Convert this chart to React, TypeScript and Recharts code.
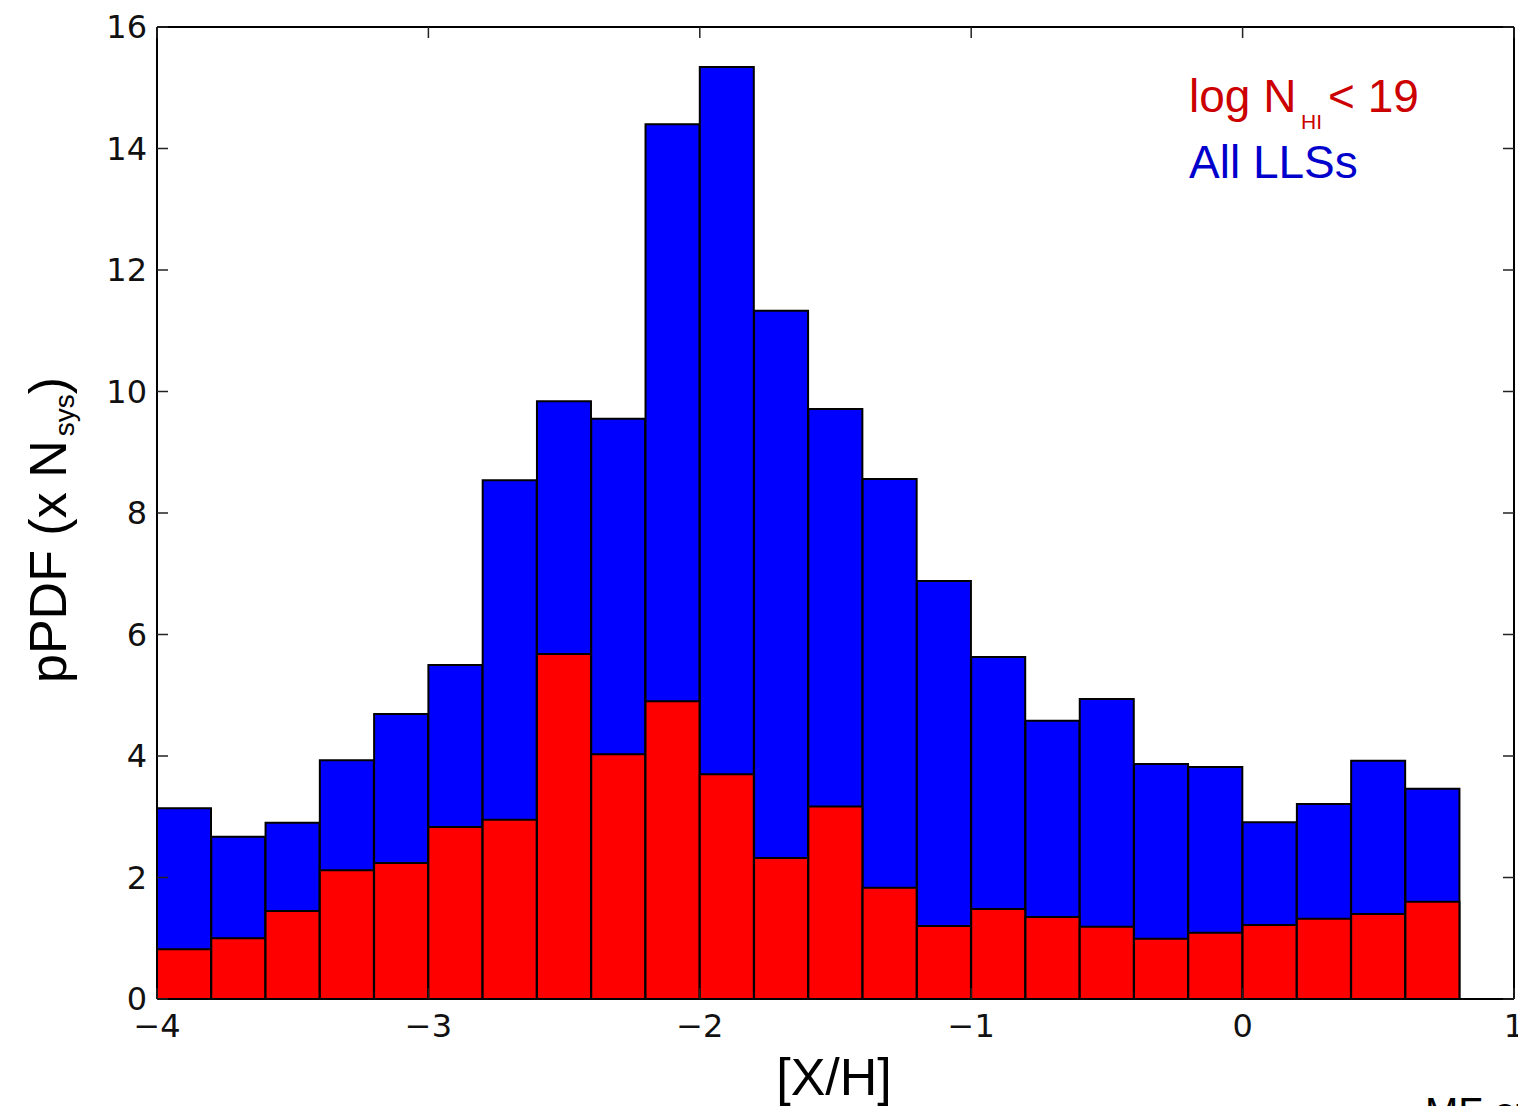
import React from 'react';
import { BarChart, Bar, XAxis, YAxis } from 'recharts';

// Bin left edges of [X/H] (width 0.2); the last slot (0.8–1.0) is empty
const binStarts = [-4.0, -3.8, -3.6, -3.4, -3.2, -3.0, -2.8, -2.6, -2.4, -2.2, -2.0, -1.8, -1.6, -1.4, -1.2, -1.0, -0.8, -0.6, -0.4, -0.2, 0.0, 0.2, 0.4, 0.6, 0.8];

// All LLSs (blue)
const allLLSs = [3.14, 2.67, 2.90, 3.93, 4.69, 5.50, 8.54, 9.84, 9.55, 14.40, 15.34, 11.33, 9.71, 8.56, 6.88, 5.63, 4.58, 4.94, 3.87, 3.82, 2.91, 3.21, 3.92, 3.46];

// log N_HI < 19 (red)
const lowNHI = [0.82, 1.00, 1.45, 2.12, 2.24, 2.83, 2.95, 5.68, 4.03, 4.90, 3.70, 2.32, 3.17, 1.83, 1.20, 1.48, 1.35, 1.19, 0.99, 1.09, 1.22, 1.32, 1.40, 1.60];

const xTicks = [-4, -3, -2, -1, 0, 1];
const yTicks = [0, 2, 4, 6, 8, 10, 12, 14, 16];

const data = binStarts.map((b, i) => ({
  bin: b.toFixed(1),
  x: b,
  all: i < allLLSs.length ? allLLSs[i] : null,
  low: i < lowNHI.length ? lowNHI[i] : null,
}));

const TICK_FONT = '"DejaVu Sans", sans-serif';
const LABEL_FONT = '"Liberation Sans", Arial, sans-serif';
const TICK_LEN = 11;
const TICK_COLOR = '#222';

const fmt = (v: number) => (v < 0 ? '\u2212' + Math.abs(v) : String(v));

const BottomTick = (props: any) => {
  const { x, y, payload } = props;
  return (
    <g>
      <line x1={x} x2={x} y1={y} y2={y - TICK_LEN} stroke={TICK_COLOR} strokeWidth={1.5} />
      <text x={x} y={y + 38} textAnchor="middle" fontFamily={TICK_FONT} fontSize={32} fill="#111">
        {fmt(payload.value)}
      </text>
    </g>
  );
};

const TopTick = (props: any) => {
  const { x, y } = props;
  return <line x1={x} x2={x} y1={y} y2={y + TICK_LEN} stroke={TICK_COLOR} strokeWidth={1.5} />;
};

const LeftTick = (props: any) => {
  const { x, y, payload } = props;
  return (
    <g>
      <line x1={x} x2={x + TICK_LEN} y1={y} y2={y} stroke={TICK_COLOR} strokeWidth={1.5} />
      <text x={x - 10} y={y + 11} textAnchor="end" fontFamily={TICK_FONT} fontSize={32} fill="#111">
        {fmt(payload.value)}
      </text>
    </g>
  );
};

const RightTick = (props: any) => {
  const { x, y } = props;
  return <line x1={x} x2={x - TICK_LEN} y1={y} y2={y} stroke={TICK_COLOR} strokeWidth={1.5} />;
};

const frame = { stroke: '#000', strokeWidth: 2 };

export default function App() {
  return (
    <div style={{ position: 'absolute', left: 0, top: 0, width: 1518, height: 1106, background: '#fff', overflow: 'hidden' }}>
      <BarChart
        width={1518}
        height={1106}
        data={data}
        margin={{ top: 26, right: 3, bottom: 106, left: 156 }}
        barCategoryGap={0}
        barGap={0}
      >
        <XAxis
          xAxisId="num"
          dataKey="x"
          type="number"
          orientation="bottom"
          domain={[-4, 1]}
          ticks={xTicks}
          allowDataOverflow
          height={1}
          tickSize={0}
          tickMargin={0}
          tickLine={false}
          axisLine={frame}
          tick={<BottomTick />}
          interval={0}
        />
        <XAxis
          xAxisId="top"
          dataKey="x"
          type="number"
          orientation="top"
          domain={[-4, 1]}
          ticks={xTicks}
          allowDataOverflow
          height={1}
          tickSize={0}
          tickMargin={0}
          tickLine={false}
          axisLine={frame}
          tick={<TopTick />}
          interval={0}
        />
        <XAxis xAxisId="cat" dataKey="bin" type="category" hide height={0} />
        <XAxis xAxisId="cat2" dataKey="bin" type="category" hide height={0} />
        <YAxis
          yAxisId="left"
          orientation="left"
          type="number"
          domain={[0, 16]}
          ticks={yTicks}
          allowDataOverflow
          width={1}
          tickSize={0}
          tickMargin={0}
          tickLine={false}
          axisLine={frame}
          tick={<LeftTick />}
          interval={0}
        />
        <YAxis
          yAxisId="right"
          orientation="right"
          type="number"
          domain={[0, 16]}
          ticks={yTicks}
          allowDataOverflow
          width={1}
          tickSize={0}
          tickMargin={0}
          tickLine={false}
          axisLine={frame}
          tick={<RightTick />}
          interval={0}
        />
        <Bar
          xAxisId="cat"
          yAxisId="left"
          dataKey="all"
          fill="#0000ff"
          stroke="#000"
          strokeWidth={2}
          isAnimationActive={false}
        />
        <Bar
          xAxisId="cat2"
          yAxisId="left"
          dataKey="low"
          fill="#ff0000"
          stroke="#000"
          strokeWidth={2}
          isAnimationActive={false}
        />
      </BarChart>
      <svg
        width={1518}
        height={1106}
        style={{ position: 'absolute', left: 0, top: 0, pointerEvents: 'none' }}
      >
        <text transform="translate(66,683) rotate(-90)" fontFamily={LABEL_FONT} fontSize={52} fill="#000">
          pPDF (x N
          <tspan dx={4} dy={8} fontSize={28}>sys</tspan>
          <tspan dy={-8}>)</tspan>
        </text>
        <text x={834} y={1095} textAnchor="middle" fontFamily={LABEL_FONT} fontSize={52} fill="#000">
          [X/H]
        </text>
        <text x={1189} y={112} fontFamily={LABEL_FONT} fontSize={46} fill="#cc0000">log N</text>
        <text x={1301} y={129} fontFamily={LABEL_FONT} fontSize={21} fill="#cc0000">HI</text>
        <text x={1328} y={112} fontFamily={LABEL_FONT} fontSize={46} fill="#cc0000">&lt; 19</text>
        <text x={1189} y={178} fontFamily={LABEL_FONT} fontSize={46} fill="#0000cc">All LLSs</text>
        <text x={1425} y={1126} fontFamily={LABEL_FONT} fontSize={40} fill="#000">MF et al.</text>
      </svg>
    </div>
  );
}
